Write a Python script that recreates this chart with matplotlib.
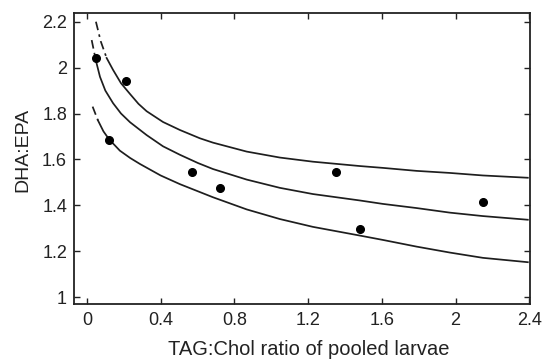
import matplotlib
matplotlib.use("Agg")
import matplotlib.pyplot as plt
from matplotlib.ticker import FuncFormatter

plt.rcParams['font.family'] = ['Liberation Sans', 'DejaVu Sans']

# observed points
obs_x = [0.05, 0.21, 0.12, 0.57, 0.72, 1.35, 1.48, 2.15]
obs_y = [2.04, 1.94, 1.685, 1.545, 1.475, 1.545, 1.295, 1.415]

# fitted curve and its bands
upper_x = [0.049, 0.075, 0.107, 0.142, 0.185, 0.234, 0.280, 0.324, 0.413, 0.505, 0.613, 0.684,
           0.867, 1.047, 1.226, 1.481, 1.606, 1.788, 1.969, 2.148, 2.392]
upper_y = [2.200, 2.115, 2.042, 1.990, 1.932, 1.885, 1.842, 1.810, 1.763, 1.728, 1.692, 1.673,
           1.634, 1.608, 1.590, 1.571, 1.563, 1.550, 1.541, 1.530, 1.520]

mid_x = [0.026, 0.049, 0.071, 0.100, 0.142, 0.185, 0.234, 0.324, 0.413, 0.505, 0.603, 0.684,
         0.867, 1.047, 1.226, 1.481, 1.606, 1.788, 1.969, 2.148, 2.392]
mid_y = [2.120, 2.030, 1.960, 1.900, 1.845, 1.800, 1.762, 1.706, 1.657, 1.620, 1.584, 1.558,
         1.512, 1.476, 1.449, 1.421, 1.406, 1.388, 1.368, 1.353, 1.337]

low_x = [0.031, 0.060, 0.090, 0.120, 0.179, 0.235, 0.288, 0.400, 0.505, 0.684,
         0.867, 1.047, 1.226, 1.481, 1.606, 1.788, 1.969, 2.148, 2.392]
low_y = [1.830, 1.770, 1.722, 1.688, 1.638, 1.606, 1.580, 1.530, 1.492, 1.435,
         1.382, 1.340, 1.306, 1.268, 1.249, 1.220, 1.194, 1.171, 1.152]

fig = plt.figure(figsize=(5.44, 3.61), dpi=100)
ax = fig.add_axes([0.136, 0.158, 0.838, 0.806])

for cx, cy, n in [(upper_x, upper_y, 3), (mid_x, mid_y, 2), (low_x, low_y, 2)]:
    # first bit is drawn broken, like the original
    ax.plot(cx[:n], cy[:n], color='#1e1e1e', lw=1.25, ls=(0, (5, 2.5, 1.5, 2.5)))
    ax.plot(cx[n - 1:], cy[n - 1:], color='#1e1e1e', lw=1.25)

ax.plot(obs_x, obs_y, 'o', color='black', markersize=5.5, ls='none')

ax.set_xlim(-0.07, 2.403)
ax.set_ylim(0.97, 2.238)
ax.set_xticks([0, 0.4, 0.8, 1.2, 1.6, 2, 2.4])
ax.set_yticks([1, 1.2, 1.4, 1.6, 1.8, 2, 2.2])
fmt = FuncFormatter(lambda v, p: f'{v:g}')
ax.xaxis.set_major_formatter(fmt)
ax.yaxis.set_major_formatter(fmt)
ax.tick_params(direction='in', top=True, right=True, length=4.5, width=1,
               labelsize=13, color='#222222', labelcolor='#222222')
ax.tick_params(axis='x', pad=6)
ax.tick_params(axis='y', pad=5)
for s in ax.spines.values():
    s.set_linewidth(1.3)
    s.set_color('#222222')

ax.set_xlabel('TAG:Chol ratio of pooled larvae', fontsize=14.5, color='#222222')
ax.xaxis.set_label_coords(0.515, -0.125)
ax.set_ylabel('DHA:EPA', fontsize=14, color='#222222')
ax.yaxis.set_label_coords(-0.093, 0.53)

fig.savefig('out.png', dpi=100)
